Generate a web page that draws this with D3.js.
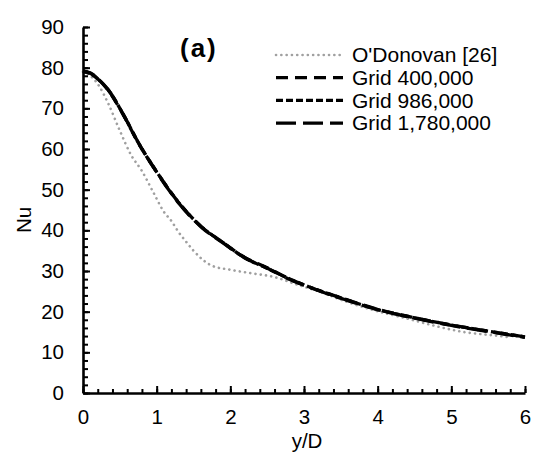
<!DOCTYPE html>
<html>
<head>
<meta charset="utf-8">
<title>Nu vs y/D</title>
<style>
  body { margin: 0; background: #fff; }
  text { font-family: "Liberation Sans", Arial, sans-serif; fill: #000; }
  .axis path, .axis line { stroke: #000; }
</style>
</head>
<body>
<script src="https://cdn.jsdelivr.net/npm/d3@7"></script>
<script>
// reference data (O'Donovan [26])
var odX = [0, 0.1, 0.2, 0.34, 0.5, 0.65, 0.8, 0.95, 1.1, 1.2, 1.3, 1.4, 1.5, 1.75, 2.0, 2.3, 2.6, 2.9, 3.2, 3.6, 4.0, 4.4, 4.8, 5.2, 5.5, 5.75];
var odY = [79, 78, 76, 71.3, 64.5, 58.6, 54.6, 49.5, 44.5, 42.3, 39.5, 37.2, 35, 31.3, 30.3, 29.4, 28.5, 26.7, 25.0, 22.3, 20.1, 18.3, 16.4, 14.9, 14.3, 13.8];

// simulations, three grids
var gridX    = [0, 0.1, 0.2, 0.34, 0.55, 0.75, 1.0, 1.3, 1.6, 1.9, 2.2, 2.5, 2.8, 3.1, 3.5, 4.0, 4.5, 5.0, 5.5, 6.0];
var grid400  = [79.2, 78.7, 77.3, 74.5, 68.3, 61.5, 54.4, 46.8, 41.0, 37.0, 33.3, 30.8, 28.1, 25.9, 23.4, 20.6, 18.5, 16.7, 15.2, 13.8];
var grid986  = [79.0, 78.6, 77.3, 74.6, 68.4, 61.6, 54.4, 46.8, 41.0, 37.0, 33.2, 30.7, 28.1, 25.9, 23.4, 20.5, 18.5, 16.7, 15.2, 13.8];
var grid1780 = [79.0, 78.6, 77.2, 74.6, 68.4, 61.6, 54.3, 46.7, 40.9, 36.9, 33.2, 30.7, 28.0, 25.8, 23.3, 20.5, 18.4, 16.6, 15.1, 13.7];

var legendNames = ["O'Donovan [26]", "Grid 400,000", "Grid 986,000", "Grid 1,780,000"];
var xTicks = [0, 1, 2, 3, 4, 5, 6];
var yTicks = [0, 10, 20, 30, 40, 50, 60, 70, 80, 90];

var width = 542, height = 461;

var svg = d3.select("body").append("svg")
  .attr("width", width)
  .attr("height", height);

var x = d3.scaleLinear().domain([0, 6]).range([83, 525]);
var y = d3.scaleLinear().domain([0, 90]).range([393, 27]);

// series styles
var styles = [
  { color: "#a0a0a0", width: 2.6, dash: "0.1,5.2", cap: "round" },
  { color: "#000", width: 3.3, dash: "12,7", cap: "butt" },
  { color: "#000", width: 3.3, dash: "7,3", cap: "butt" },
  { color: "#000", width: 3.3, dash: "20,7", cap: "butt" }
];

var series = [
  d3.zip(odX, odY),
  d3.zip(gridX, grid400),
  d3.zip(gridX, grid986),
  d3.zip(gridX, grid1780)
];

var line = d3.line()
  .x(function(d){ return x(d[0]); })
  .y(function(d){ return y(d[1]); })
  .curve(d3.curveMonotoneX);

svg.append("g").selectAll("path")
  .data(series)
  .enter()
  .append("path")
  .attr("d", line)
  .attr("fill", "none")
  .attr("stroke", function(d, i){ return styles[i].color; })
  .attr("stroke-width", function(d, i){ return styles[i].width; })
  .attr("stroke-dasharray", function(d, i){ return styles[i].dash; })
  .attr("stroke-linecap", function(d, i){ return styles[i].cap; });

// minor ticks
var xMinor = d3.range(0, 31).map(function(i){ return i * 0.2; });
var yMinor = d3.range(0, 46).map(function(i){ return i * 2; });

svg.append("g")
  .attr("class", "axis")
  .attr("transform", "translate(0," + y(0) + ")")
  .call(d3.axisBottom(x).tickValues(xMinor).tickSize(-4).tickFormat(""))
  .call(function(g){ g.select(".domain").remove(); g.selectAll("line").attr("stroke-width", 2); });

svg.append("g")
  .attr("class", "axis")
  .attr("transform", "translate(" + x(0) + ",0)")
  .call(d3.axisLeft(y).tickValues(yMinor).tickSize(-5).tickFormat(""))
  .call(function(g){ g.select(".domain").remove(); g.selectAll("line").attr("stroke-width", 2); });

// major ticks + labels
var xAxis = svg.append("g")
  .attr("class", "axis")
  .attr("transform", "translate(0," + y(0) + ")")
  .call(d3.axisBottom(x).tickValues(xTicks).tickSizeInner(-7).tickSizeOuter(0).tickPadding(16).tickFormat(d3.format("d")));
xAxis.select(".domain").attr("stroke-width", 2.6);
xAxis.selectAll("line").attr("stroke-width", 2);
xAxis.selectAll("text").style("font-size", "20.5px");

var yAxis = svg.append("g")
  .attr("class", "axis")
  .attr("transform", "translate(" + x(0) + ",0)")
  .call(d3.axisLeft(y).tickValues(yTicks).tickSizeInner(-7).tickSizeOuter(0).tickPadding(19).tickFormat(d3.format("d")));
yAxis.select(".domain").attr("stroke-width", 2.6);
yAxis.selectAll("line").attr("stroke-width", 2);
yAxis.selectAll("text").style("font-size", "20.5px");

// axis titles
svg.append("text")
  .attr("x", 307)
  .attr("y", 448)
  .attr("text-anchor", "middle")
  .style("font-size", "20.5px")
  .text("y/D");

svg.append("text")
  .attr("transform", "translate(31,220) rotate(-90)")
  .attr("text-anchor", "middle")
  .style("font-size", "20.5px")
  .text("Nu");

// panel label
svg.append("text")
  .attr("x", 180)
  .attr("y", 57)
  .style("font-size", "26px")
  .style("font-weight", "bold")
  .style("letter-spacing", "2px")
  .text("(a)");

// legend
var legend = svg.append("g").selectAll("g")
  .data(legendNames)
  .enter()
  .append("g")
  .attr("transform", function(d, i){ return "translate(0," + (55 + i * 22.7) + ")"; });

legend.append("line")
  .attr("x1", 276)
  .attr("x2", 343)
  .attr("stroke", function(d, i){ return styles[i].color; })
  .attr("stroke-width", function(d, i){ return styles[i].width; })
  .attr("stroke-dasharray", function(d, i){ return styles[i].dash; })
  .attr("stroke-linecap", function(d, i){ return styles[i].cap; });

legend.append("text")
  .attr("x", 352)
  .attr("dy", "0.35em")
  .style("font-size", "21px")
  .text(function(d){ return d; });
</script>
</body>
</html>
